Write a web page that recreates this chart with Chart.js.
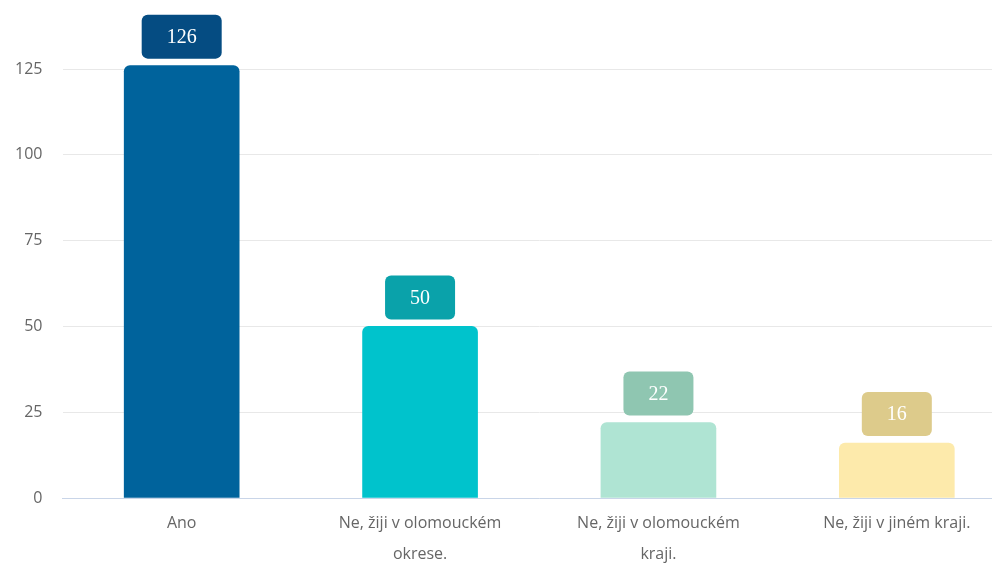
<!DOCTYPE html>
<html>
<head>
<meta charset="utf-8">
<script src="https://cdn.jsdelivr.net/npm/chart.js@4"></script>
<style>
  html, body { margin: 0; padding: 0; background: #fff; overflow: hidden; }
  #wrap { width: 1016px; height: 563px; }
</style>
</head>
<body>
<div id="wrap"><canvas id="myChart"></canvas></div>
<script>
const categories = [
  "Ano",
  ["Ne, žiji v olomouckém", "okrese."],
  ["Ne, žiji v olomouckém", "kraji."],
  "Ne, žiji v jiném kraji."
];
const counts = [126, 50, 22, 16];
const barColors = ["#00639c", "#00c3cc", "#afe4d3", "#fdeaab"];
const boxColors = ["#054c82", "#0aa2aa", "#8fc6b1", "#ddcb8b"];

// value boxes above the bars
const valueBoxes = {
  id: "valueBoxes",
  afterDatasetsDraw(chart) {
    const ctx = chart.ctx;
    const meta = chart.getDatasetMeta(0);
    ctx.save();
    ctx.font = "20px 'Liberation Serif', serif";
    ctx.textAlign = "center";
    ctx.textBaseline = "middle";
    meta.data.forEach(function (bar, i) {
      const txt = String(counts[i]);
      const w = ctx.measureText(txt).width + 50;
      const h = 44;
      const x = bar.x - w / 2;
      const y = bar.y - 7 - h;
      ctx.fillStyle = boxColors[i];
      ctx.beginPath();
      ctx.roundRect(x, y, w, h, 6);
      ctx.fill();
      ctx.fillStyle = "#fff";
      ctx.fillText(txt, bar.x, y + h / 2 + 1);
    });
    ctx.restore();
  }
};

const ctx = document.getElementById("myChart").getContext("2d");

const myChart = new Chart(ctx, {
  type: "bar",
  data: {
    labels: categories,
    datasets: [
      {
        data: counts,
        backgroundColor: barColors,
        borderRadius: { topLeft: 6, topRight: 6 },
        borderSkipped: "start",
        barThickness: 115
      }
    ]
  },
  options: {
    responsive: true,
    maintainAspectRatio: false,
    animation: false,
    layout: { padding: { top: 4, right: 0, left: 0, bottom: 0 } },
    plugins: {
      legend: { display: false },
      tooltip: { enabled: false }
    },
    scales: {
      x: {
        grid: { display: false, drawTicks: false },
        border: { display: true, color: "#c9d5e8", width: 1 },
        ticks: {
          color: "#666",
          padding: 10,
          font: { family: "'Open Sans', sans-serif", size: 16, lineHeight: 1.95 }
        },
        afterFit: function (axis) { axis.height = 65; }
      },
      y: {
        min: 0,
        max: 136.5,
        grid: { color: "#e8e8e8", drawTicks: false },
        border: { display: false },
        ticks: {
          stepSize: 25,
          color: "#666",
          padding: 20,
          font: { family: "'Open Sans', sans-serif", size: 16 }
        },
        afterBuildTicks: function (axis) {
          axis.ticks = axis.ticks.filter(function (t) { return t.value % 25 === 0; });
        },
        afterFit: function (axis) { axis.width = 62.5; }
      }
    }
  },
  plugins: [valueBoxes]
});
</script>
</body>
</html>
